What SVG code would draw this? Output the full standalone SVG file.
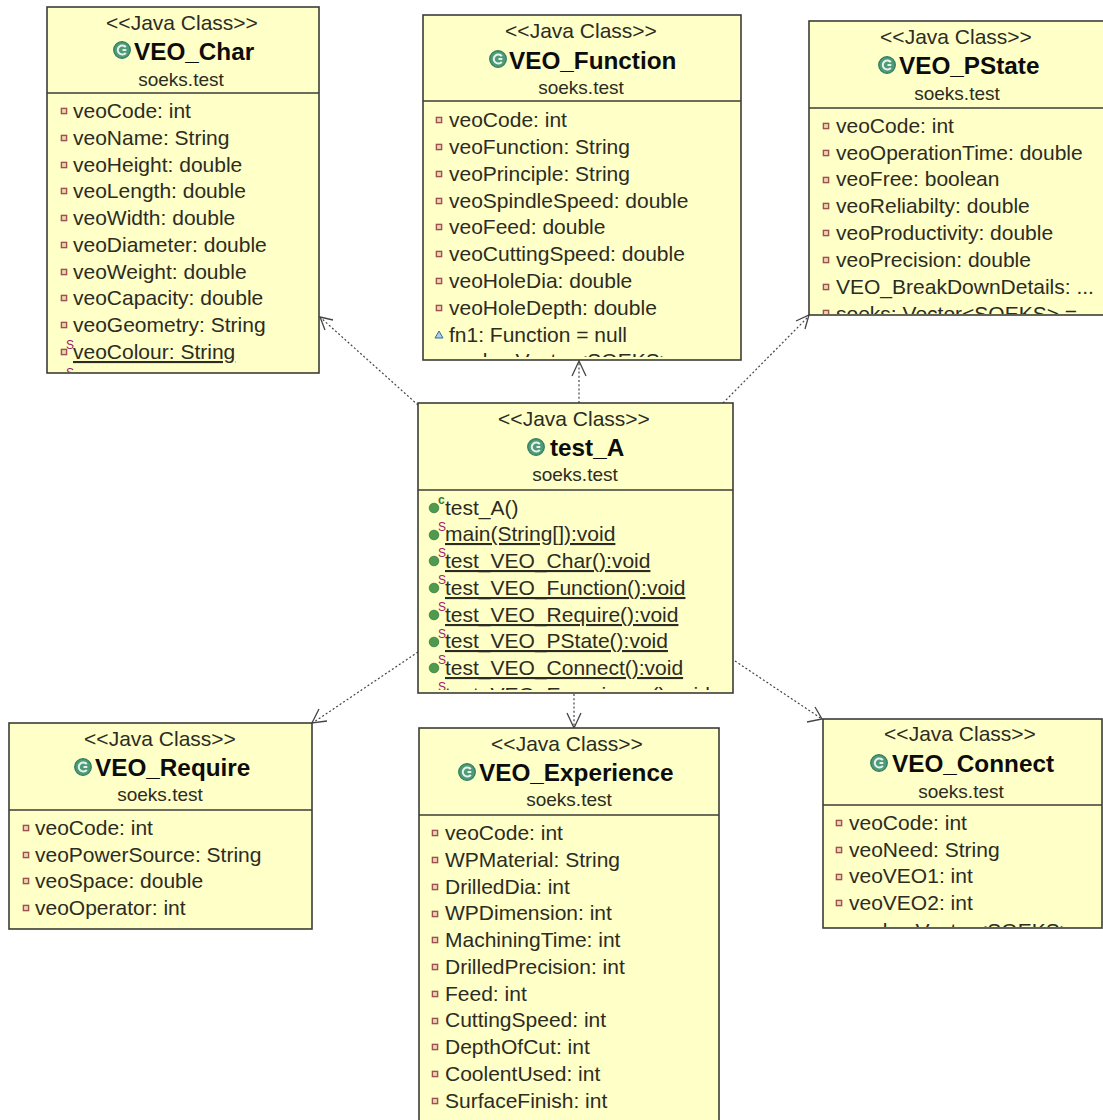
<svg xmlns="http://www.w3.org/2000/svg" width="1103" height="1120" viewBox="0 0 1103 1120">
<style>
text{font-family:"Liberation Sans",Arial,sans-serif;font-size:21px;fill:#2c2c22}
.box{fill:#ffffc8;stroke:#3c3c38;stroke-width:1.6}
.div{stroke:#3c3c38;stroke-width:1.4}
.c{text-anchor:middle}
.st{font-size:21px}
.t{font-size:24.3px;font-weight:bold;fill:#0c0c0c}
.p{font-size:19px}
.u{text-decoration:underline;text-underline-offset:4px}
.ci{fill:#4f9a78;stroke:#2f7a5c;stroke-width:1.2}
.cin{fill:none;stroke:#e6f3ea;stroke-width:2}
.f{fill:#e8d8b0;stroke:#a05050;stroke-width:1.4}
.tr{fill:#a8d0e8;stroke:#3a6a98;stroke-width:1}
.m{fill:#4d9a50;stroke:#3a7a3e;stroke-width:.8}
.sup{font-size:12px;fill:#a02070}
.supc{font-size:12px;fill:#2a7a30;font-weight:bold}
.dash{fill:none;stroke:#444;stroke-width:1.2;stroke-dasharray:2 2.2}
.head{fill:none;stroke:#444;stroke-width:1.3}
</style>
<defs>
<g id="ic"><circle class="ci" r="8.3"/><path class="cin" d="M3.8 -2.8A4.5 4.5 0 1 0 3.8 2.8M0.5 0H4.3"/></g>
<rect id="fd" class="f" x="-2.6" y="-2.6" width="5.2" height="5.2"/>
<circle id="md" class="m" r="4.8"/>
<clipPath id="cChar"><rect x="47" y="94" width="272" height="278"/></clipPath>
<clipPath id="cFunc"><rect x="423" y="102" width="318" height="255"/></clipPath>
<clipPath id="cPS"><rect x="809" y="109" width="294" height="205"/></clipPath>
<clipPath id="cA"><rect x="418" y="491" width="315" height="199"/></clipPath>
<clipPath id="cCon"><rect x="823" y="806" width="279" height="121"/></clipPath>
</defs>

<g id="connectors">
<path class="dash" d="M418 405L321 318"/><path class="head" d="M333 320L320 317L325 330"/>
<path class="dash" d="M579 403V362"/><path class="head" d="M572 376L579 361L586 376"/>
<path class="dash" d="M723 403L808 317"/><path class="head" d="M796 321L809 315L805 329"/>
<path class="dash" d="M418 652L314 722"/><path class="head" d="M319 709L312 723L327 721"/>
<path class="dash" d="M574 694V727"/><path class="head" d="M567 713L574 728L581 713"/>
<path class="dash" d="M735 661L822 719"/><path class="head" d="M807 722L822 719L815 707"/>
</g>

<g id="VEO_Char">
<rect class="box" x="47" y="7" width="272" height="366"/>
<line class="div" x1="47" y1="93" x2="319" y2="93"/>
<text class="c st" x="182" y="30">&lt;&lt;Java Class&gt;&gt;</text>
<use href="#ic" x="122" y="50"/>
<text class="t" x="134" y="60">VEO_Char</text>
<text class="c p" x="181" y="86">soeks.test</text>
<g clip-path="url(#cChar)">
<use href="#fd" x="64" y="111"/><text x="73" y="118">veoCode: int</text>
<use href="#fd" x="64" y="138"/><text x="73" y="145">veoName: String</text>
<use href="#fd" x="64" y="165"/><text x="73" y="172">veoHeight: double</text>
<use href="#fd" x="64" y="191"/><text x="73" y="198">veoLength: double</text>
<use href="#fd" x="64" y="218"/><text x="73" y="225">veoWidth: double</text>
<use href="#fd" x="64" y="245"/><text x="73" y="252">veoDiameter: double</text>
<use href="#fd" x="64" y="272"/><text x="73" y="279">veoWeight: double</text>
<use href="#fd" x="64" y="298"/><text x="73" y="305">veoCapacity: double</text>
<use href="#fd" x="64" y="325"/><text x="73" y="332">veoGeometry: String</text>
<use href="#fd" x="64" y="352"/><text class="sup" x="66" y="349">S</text><text class="u" x="73" y="359">veoColour: String</text>
<text class="sup" x="66" y="377">S</text>
</g>
</g>

<g id="VEO_Function">
<rect class="box" x="423" y="15" width="318" height="345"/>
<line class="div" x1="423" y1="101" x2="741" y2="101"/>
<text class="c st" x="581" y="38">&lt;&lt;Java Class&gt;&gt;</text>
<use href="#ic" x="498" y="59"/>
<text class="t" x="509" y="69">VEO_Function</text>
<text class="c p" x="581" y="94">soeks.test</text>
<g clip-path="url(#cFunc)">
<use href="#fd" x="439" y="120"/><text x="449" y="127">veoCode: int</text>
<use href="#fd" x="439" y="147"/><text x="449" y="154">veoFunction: String</text>
<use href="#fd" x="439" y="174"/><text x="449" y="181">veoPrinciple: String</text>
<use href="#fd" x="439" y="201"/><text x="449" y="208">veoSpindleSpeed: double</text>
<use href="#fd" x="439" y="227"/><text x="449" y="234">veoFeed: double</text>
<use href="#fd" x="439" y="254"/><text x="449" y="261">veoCuttingSpeed: double</text>
<use href="#fd" x="439" y="281"/><text x="449" y="288">veoHoleDia: double</text>
<use href="#fd" x="439" y="308"/><text x="449" y="315">veoHoleDepth: double</text>
<path class="tr" d="M439 331L443 338H435Z"/><text x="449" y="342">fn1: Function = null</text>
<text x="449" y="368">soeks: Vector&lt;SOEKS&gt; =</text>
</g>
</g>

<g id="VEO_PState">
<rect class="box" x="809" y="21" width="300" height="294"/>
<line class="div" x1="809" y1="108" x2="1103" y2="108"/>
<text class="c st" x="956" y="44">&lt;&lt;Java Class&gt;&gt;</text>
<use href="#ic" x="887" y="65"/>
<text class="t" x="899" y="74">VEO_PState</text>
<text class="c p" x="957" y="100">soeks.test</text>
<g clip-path="url(#cPS)">
<use href="#fd" x="826" y="126"/><text x="836" y="133">veoCode: int</text>
<use href="#fd" x="826" y="153"/><text x="836" y="160">veoOperationTime: double</text>
<use href="#fd" x="826" y="180"/><text x="836" y="186">veoFree: boolean</text>
<use href="#fd" x="826" y="206"/><text x="836" y="213">veoReliabilty: double</text>
<use href="#fd" x="826" y="233"/><text x="836" y="240">veoProductivity: double</text>
<use href="#fd" x="826" y="260"/><text x="836" y="267">veoPrecision: double</text>
<use href="#fd" x="826" y="287"/><text x="836" y="294">VEO_BreakDownDetails: ...</text>
<use href="#fd" x="826" y="313"/><text x="836" y="321">soeks: Vector&lt;SOEKS&gt; =</text>
</g>
</g>

<g id="test_A">
<rect class="box" x="418" y="403" width="315" height="290"/>
<line class="div" x1="418" y1="490" x2="733" y2="490"/>
<text class="c st" x="574" y="426">&lt;&lt;Java Class&gt;&gt;</text>
<use href="#ic" x="536" y="447"/>
<text class="t" x="550" y="456">test_A</text>
<text class="c p" x="575" y="481">soeks.test</text>
<g clip-path="url(#cA)">
<use href="#md" x="434" y="508"/><text class="supc" x="438" y="504">c</text><text x="445" y="515">test_A()</text>
<use href="#md" x="434" y="535"/><text class="sup" x="438" y="531">S</text><text class="u" x="445" y="541">main(String[]):void</text>
<use href="#md" x="434" y="561"/><text class="sup" x="438" y="557">S</text><text class="u" x="445" y="568">test_VEO_Char():void</text>
<use href="#md" x="434" y="588"/><text class="sup" x="438" y="584">S</text><text class="u" x="445" y="595">test_VEO_Function():void</text>
<use href="#md" x="434" y="615"/><text class="sup" x="438" y="611">S</text><text class="u" x="445" y="622">test_VEO_Require():void</text>
<use href="#md" x="434" y="642"/><text class="sup" x="438" y="638">S</text><text class="u" x="445" y="648">test_VEO_PState():void</text>
<use href="#md" x="434" y="668"/><text class="sup" x="438" y="664">S</text><text class="u" x="445" y="675">test_VEO_Connect():void</text>
<text class="sup" x="438" y="691">S</text><text class="u" x="445" y="702">test_VEO_Experience():void</text>
</g>
</g>

<g id="VEO_Require">
<rect class="box" x="9" y="723" width="303" height="206"/>
<line class="div" x1="9" y1="810" x2="312" y2="810"/>
<text class="c st" x="160" y="746">&lt;&lt;Java Class&gt;&gt;</text>
<use href="#ic" x="83" y="767"/>
<text class="t" x="95" y="776">VEO_Require</text>
<text class="c p" x="160" y="801">soeks.test</text>
<use href="#fd" x="26" y="828"/><text x="35" y="835">veoCode: int</text>
<use href="#fd" x="26" y="855"/><text x="35" y="862">veoPowerSource: String</text>
<use href="#fd" x="26" y="881"/><text x="35" y="888">veoSpace: double</text>
<use href="#fd" x="26" y="908"/><text x="35" y="915">veoOperator: int</text>
</g>

<g id="VEO_Experience">
<rect class="box" x="419" y="728" width="300" height="400"/>
<line class="div" x1="419" y1="815" x2="719" y2="815"/>
<text class="c st" x="567" y="751">&lt;&lt;Java Class&gt;&gt;</text>
<use href="#ic" x="467" y="772"/>
<text class="t" x="479" y="781">VEO_Experience</text>
<text class="c p" x="569" y="806">soeks.test</text>
<use href="#fd" x="435" y="833"/><text x="445" y="840">veoCode: int</text>
<use href="#fd" x="435" y="860"/><text x="445" y="867">WPMaterial: String</text>
<use href="#fd" x="435" y="887"/><text x="445" y="894">DrilledDia: int</text>
<use href="#fd" x="435" y="914"/><text x="445" y="920">WPDimension: int</text>
<use href="#fd" x="435" y="940"/><text x="445" y="947">MachiningTime: int</text>
<use href="#fd" x="435" y="967"/><text x="445" y="974">DrilledPrecision: int</text>
<use href="#fd" x="435" y="994"/><text x="445" y="1001">Feed: int</text>
<use href="#fd" x="435" y="1021"/><text x="445" y="1027">CuttingSpeed: int</text>
<use href="#fd" x="435" y="1047"/><text x="445" y="1054">DepthOfCut: int</text>
<use href="#fd" x="435" y="1074"/><text x="445" y="1081">CoolentUsed: int</text>
<use href="#fd" x="435" y="1101"/><text x="445" y="1108">SurfaceFinish: int</text>
</g>

<g id="VEO_Connect">
<rect class="box" x="823" y="719" width="279" height="209"/>
<line class="div" x1="823" y1="805" x2="1102" y2="805"/>
<text class="c st" x="960" y="741">&lt;&lt;Java Class&gt;&gt;</text>
<use href="#ic" x="879" y="763"/>
<text class="t" x="892" y="772">VEO_Connect</text>
<text class="c p" x="961" y="798">soeks.test</text>
<g clip-path="url(#cCon)">
<use href="#fd" x="839" y="823"/><text x="849" y="830">veoCode: int</text>
<use href="#fd" x="839" y="850"/><text x="849" y="857">veoNeed: String</text>
<use href="#fd" x="839" y="877"/><text x="849" y="883">veoVEO1: int</text>
<use href="#fd" x="839" y="903"/><text x="849" y="910">veoVEO2: int</text>
<text x="849" y="938">soeks: Vector&lt;SOEKS&gt; =</text>
</g>
</g>
</svg>
